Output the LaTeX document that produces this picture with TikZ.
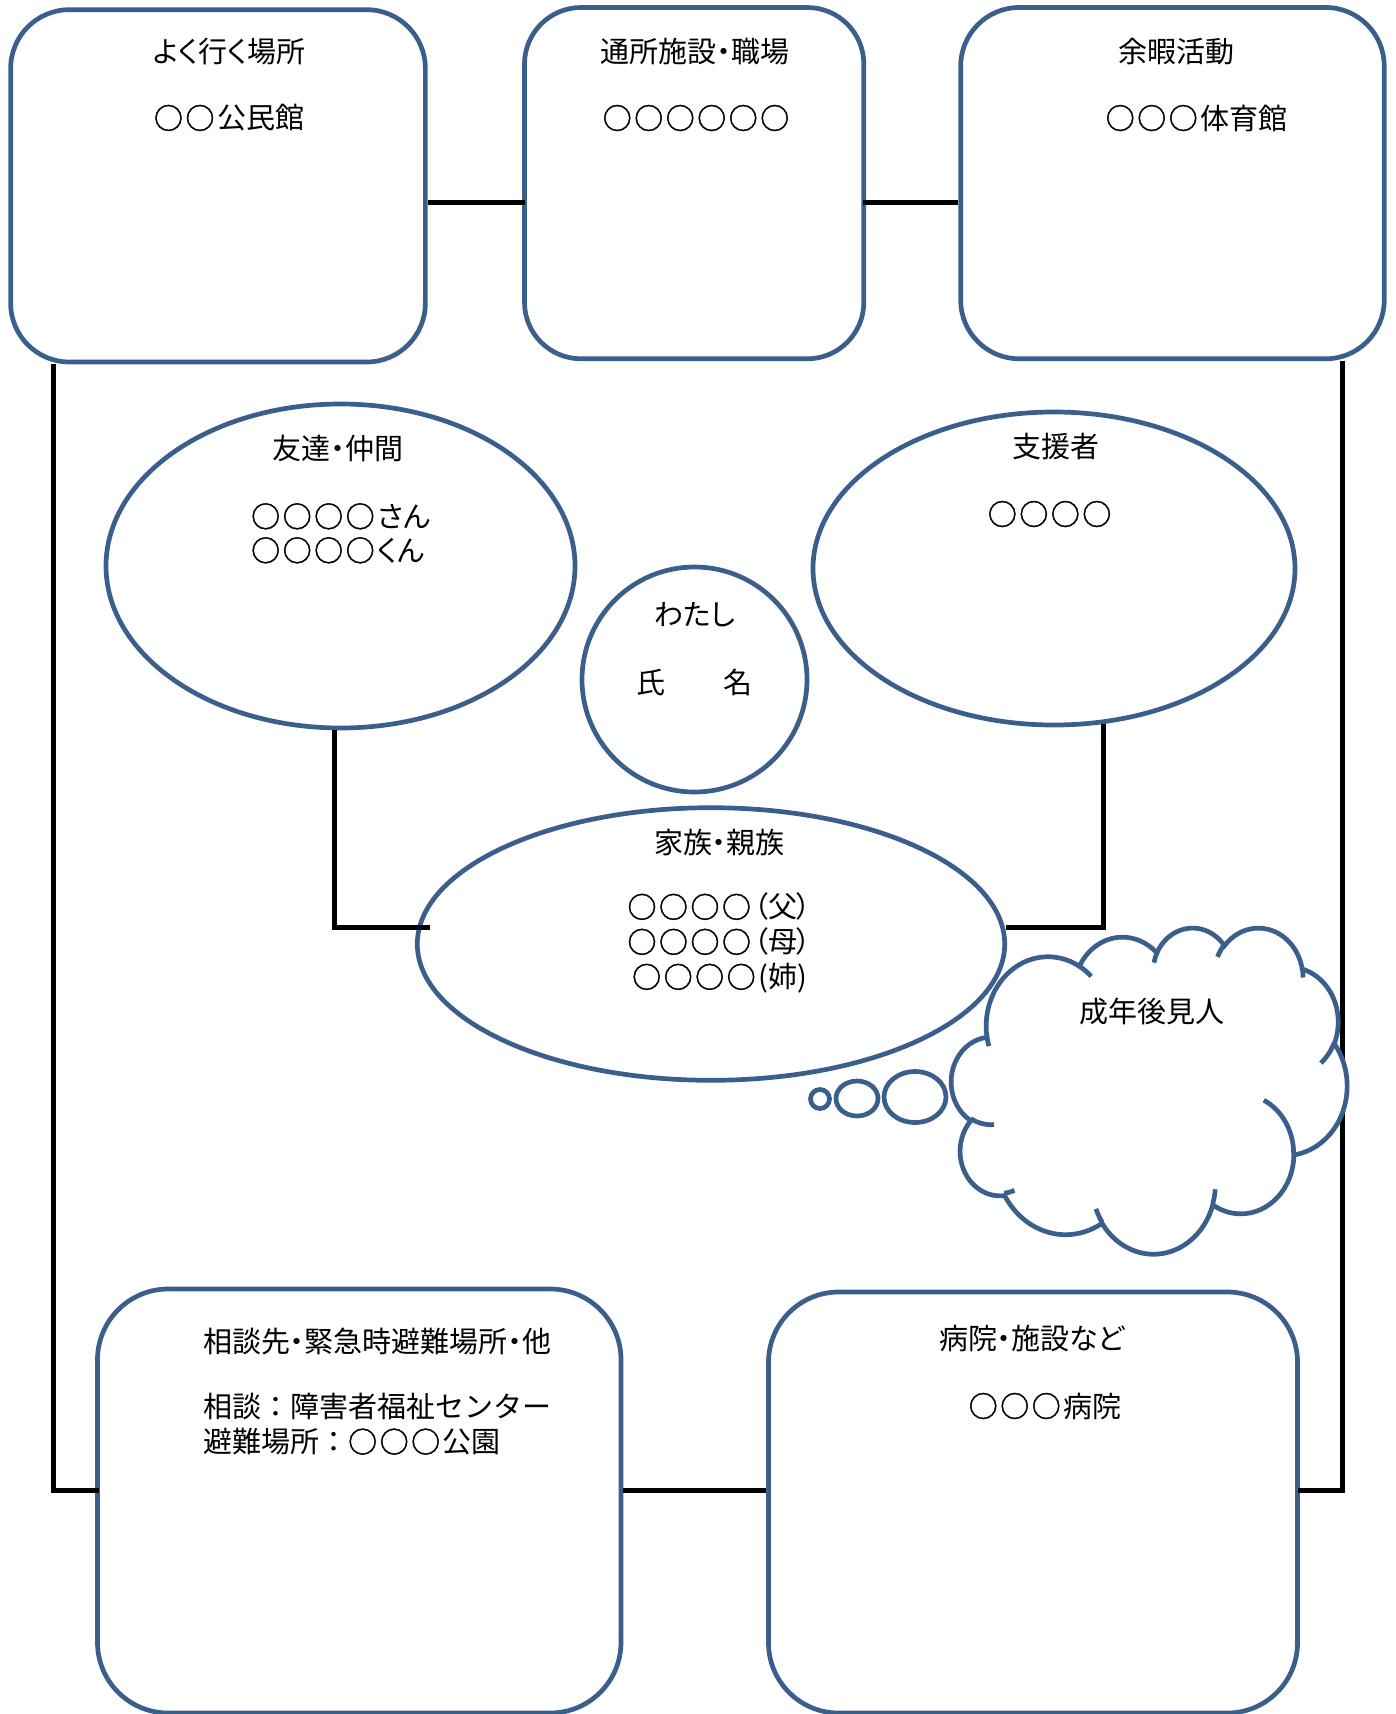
\documentclass[tikz,border=0pt]{standalone}
\usepackage{fontspec}
\newfontfamily\jp[RawFeature=+palt]{Noto Sans CJK JP}
\newfontfamily\jpf{Noto Sans CJK JP}
\newfontfamily\jpo[FakeBold=1.5]{Noto Sans CJK JP}
\newcommand\mr{{\jpo ○}\kern2.5pt}
\usetikzlibrary{shapes.geometric}
\definecolor{ob}{RGB}{58,95,140}
% convert DrawingML visual angles to parametric angles
\newcommand\cldang[5]{%
  \pgfmathsetmacro\cldtmpa{atan2((#2)*sin(#4),(#3)*cos(#4))}%
  \pgfmathsetmacro\cldtmpb{atan2((#2)*sin((#4)+(#5)),(#3)*cos((#4)+(#5)))}%
  \ifdim #5pt>0pt
    \ifdim\cldtmpb pt<\cldtmpa pt \pgfmathsetmacro\cldtmpb{\cldtmpb+360}\fi
  \else
    \ifdim\cldtmpb pt>\cldtmpa pt \pgfmathsetmacro\cldtmpb{\cldtmpb-360}\fi
  \fi
  \expandafter\global\expandafter\let\csname cld#1s\endcsname\cldtmpa
  \expandafter\global\expandafter\let\csname cld#1e\endcsname\cldtmpb
}
\begin{document}
\begin{tikzpicture}[x=1pt,y=-1pt,
  box/.style={draw=ob, line width=4.7pt, fill=white, rectangle, inner sep=0pt},
  ell/.style={draw=ob, line width=4.7pt, fill=white, ellipse, inner sep=0pt},
  circ/.style={draw=ob, line width=4.7pt, fill=white, circle, inner sep=0pt},
  conn/.style={draw=black, line width=5pt},
  txt/.style={font=\jp\fontsize{29}{34}\selectfont, inner sep=0pt, text=black},
  txtw/.style={font=\jp\fontsize{29}{35}\selectfont, inner sep=0pt, text=black},
  txtf/.style={font=\jpf\fontsize{29}{35}\selectfont, inner sep=0pt, text=black},
]
\useasboundingbox (0,0) rectangle (1396,1714);
\fill[white] (0,0) rectangle (1396,1714);

% ---- boxes ----
\node[box, rounded corners=58.7pt, minimum width=414.7pt, minimum height=352.3pt] (b1) at (218,185.85) {};
\node[box, rounded corners=56.5pt, minimum width=339.3pt, minimum height=351.3pt] (b2) at (694.15,183.15) {};
\node[box, rounded corners=58.5pt, minimum width=423.5pt, minimum height=351.3pt] (b3) at (1172.45,183.15) {};
\node[box, rounded corners=70.7pt, minimum width=523.5pt, minimum height=424pt] (b4) at (359.25,1501) {};
\node[box, rounded corners=70.2pt, minimum width=529pt, minimum height=421pt] (b5) at (1033,1502.5) {};

% ---- ellipses ----
\node[ell, minimum width=469pt, minimum height=324pt] (fr) at (340.5,566) {};
\node[ell, minimum width=482pt, minimum height=313pt] (sup) at (1054,568.5) {};
\node[circ, minimum size=225pt] (me) at (694.5,679.5) {};
\node[ell, minimum width=587.4pt, minimum height=272.6pt] (fam) at (711,944) {};

% ---- connectors ----
\coordinate (ky) at (0,202.5);
\coordinate (xL) at (53.3,0);
\coordinate (xR) at (1342.7,0);
\coordinate (yB) at (0,1490.5);
\coordinate (xF) at (334.7,0);
\coordinate (xS) at (1103,0);
\coordinate (famL) at (430,927.7);
\coordinate (famR) at (1006,927.7);
\draw[conn] (b1.east |- ky) -- ([xshift=3pt]b2.west |- ky);
\draw[conn] ([xshift=-3pt]b2.east |- ky) -- (b3.west |- ky);
\draw[conn, shorten >=-4pt] (b1.south -| xL) |- (b4.west |- yB);
\draw[conn, shorten >=-2pt] (b3.south -| xR) |- (b5.east |- yB);
\draw[conn] (b4.east |- yB) -- (b5.west |- yB);
\draw[conn] (fr.south -| xF) |- (famL);
\draw[conn] (sup.-72.5 -| xS) |- (famR);

% ---- thought bubbles ----
\node[ell, minimum width=19pt, minimum height=19pt] (bb1) at (820,1099) {};
\node[ell, minimum width=42pt, minimum height=35pt] (bb2) at (857,1098.5) {};
\node[ell, minimum width=62pt, minimum height=51pt] (bb3) at (915,1097) {};

% ---- cloud (Office cloud geometry) ----
\cldang{A}{675.3}{919.0}{-190.48748}{123.78053}
\cldang{B}{533.3}{726.7}{-144.10238}{89.94523}
\cldang{C}{436.5}{594.5}{-145.80792}{99.72302}
\cldang{D}{485.7}{659.5}{-130.98607}{117.24173}
\cldang{E}{533.3}{727.3}{-78.70888}{109.02692}
\cldang{F}{677.5}{922.0}{-46.26725}{130.269}
\cldang{G}{578.5}{786.7}{0.62502}{114.03333}
\cldang{H}{675.2}{921.5}{22.4516}{115.17255}
\cldang{I}{772.0}{1054.3}{66.24263}{74.88882}
\cldang{J}{436.0}{591.8}{-274.94208}{146.73557}
\cldang{K}{434.5}{594.5}{-246.8285}{152.51885}
\cldang{a}{434.5}{594.5}{86.742}{26.4295}
\cldang{b}{436.0}{591.8}{73.61047}{11.44747}
\cldang{c}{675.2}{921.5}{137.62415}{14.0811}
\cldang{d}{675.2}{921.5}{6.45327}{15.99835}
\cldang{e}{578.5}{786.7}{-70.29235}{70.91737}
\cldang{f}{533.3}{727.3}{30.31803}{27.7515}
\cldang{g}{485.7}{659.5}{-13.74433}{14.8589}
\cldang{h}{485.7}{659.5}{-149.18145}{18.19537}
\cldang{i}{436.5}{594.5}{-163.49427}{17.68635}
\cldang{j}{675.3}{919.0}{-66.70695}{12.31935}
\cldang{k}{675.3}{919.0}{157.65435}{11.85817}
\begin{scope}[shift={(951,927)}, x={(0.0916667pt,0pt)}, y={(0pt,-0.075463pt)}]
\path[draw=ob, line width=4.7pt, fill=white] (390,1437)
  arc[x radius=675.3, y radius=919.0, start angle=\cldAs, end angle=\cldAe]
  arc[x radius=533.3, y radius=726.7, start angle=\cldBs, end angle=\cldBe]
  arc[x radius=436.5, y radius=594.5, start angle=\cldCs, end angle=\cldCe]
  arc[x radius=485.7, y radius=659.5, start angle=\cldDs, end angle=\cldDe]
  arc[x radius=533.3, y radius=727.3, start angle=\cldEs, end angle=\cldEe]
  arc[x radius=677.5, y radius=922.0, start angle=\cldFs, end angle=\cldFe]
  arc[x radius=578.5, y radius=786.7, start angle=\cldGs, end angle=\cldGe]
  arc[x radius=675.2, y radius=921.5, start angle=\cldHs, end angle=\cldHe]
  arc[x radius=772.0, y radius=1054.3, start angle=\cldIs, end angle=\cldIe]
  arc[x radius=436.0, y radius=591.8, start angle=\cldJs, end angle=\cldJe]
  arc[x radius=434.5, y radius=594.5, start angle=\cldKs, end angle=\cldKe]
  -- cycle;
\path[draw=ob, line width=4.7pt]
  (469.3,2617.7) arc[x radius=434.5, y radius=594.5, start angle=\cldas, end angle=\cldae]
  (692.8,3489.9) arc[x radius=436.0, y radius=591.8, start angle=\cldbs, end angle=\cldbe]
  (1647.8,3909.0) arc[x radius=675.2, y radius=921.5, start angle=\cldcs, end angle=\cldce]
  (2882.7,3475.1) arc[x radius=675.2, y radius=921.5, start angle=\cldds, end angle=\cldde]
  (3412.9,2295.4) arc[x radius=578.5, y radius=786.7, start angle=\cldes, end angle=\cldee]
  (4179.8,1535.4) arc[x radius=533.3, y radius=727.3, start angle=\cldfs, end angle=\cldfe]
  (3832.4,542.6) arc[x radius=485.7, y radius=659.5, start angle=\cldgs, end angle=\cldge]
  (2907.8,395.2) arc[x radius=485.7, y radius=659.5, start angle=\cldhs, end angle=\cldhe]
  (2214.1,472.0) arc[x radius=436.5, y radius=594.5, start angle=\cldis, end angle=\cldie]
  (1400.0,519.2) arc[x radius=675.3, y radius=919.0, start angle=\cldjs, end angle=\cldje]
  (412.7,1578.9) arc[x radius=675.3, y radius=919.0, start angle=\cldks, end angle=\cldke];
\end{scope}

% ---- texts ----
\node[txt] (t1a) at (229,52) {よく行く場所};
\node[txt] (t1b) at (229,118) {\mr\mr{}公民館};
\node[txt] (t2a) at (695,51.5) {通所施設・職場};
\node[txt] (t2b) at (696,118) {\mr\mr\mr\mr\mr{\jpo ○}};
\node[txt] (t3a) at (1176,51.7) {余暇活動};
\node[txt] (t3b) at (1196.5,118) {\mr\mr\mr{}体育館};
\node[txt] (tfr) at (338,448) {友達・仲間};
\node[txt, align=left, anchor=west] (tfrl) at (251,533.3) {\mr\mr\mr\mr{}さん\\\mr\mr\mr\mr{}くん};
\node[txt] (tsu) at (1056,447) {支援者};
\node[txt] (tsul) at (1049.6,514) {\mr\mr\mr{\jpo ○}};
\node[txt] (tme) at (695,615) {わたし};
\node[txt] (tmn) at (694,682) {氏　　名};
\node[txt] (tfa) at (719.4,842.7) {家族・親族};
\node[txtw, align=center] (tfal) at (719.5,943.3) {\mr\mr\mr\mr{}（父）\\\mr\mr\mr\mr{}（母）\\\mr\mr\mr\mr{}(姉)};
\node[txt] (tcl) at (1152,1011.7) {成年後見人};
\node[txt, anchor=west] (t4a) at (203,1341.7) {相談先・緊急時避難場所・他};
\node[txtf, align=left, anchor=west] (t4l) at (203,1424.2) {相談：障害者福祉センター\\避難場所：\mr\mr\mr{}公園};
\node[txt] (t5a) at (1032,1338) {病院・施設など};
\node[txt] (t5b) at (1045,1406) {\mr\mr\mr{}病院};
\end{tikzpicture}
\end{document}
